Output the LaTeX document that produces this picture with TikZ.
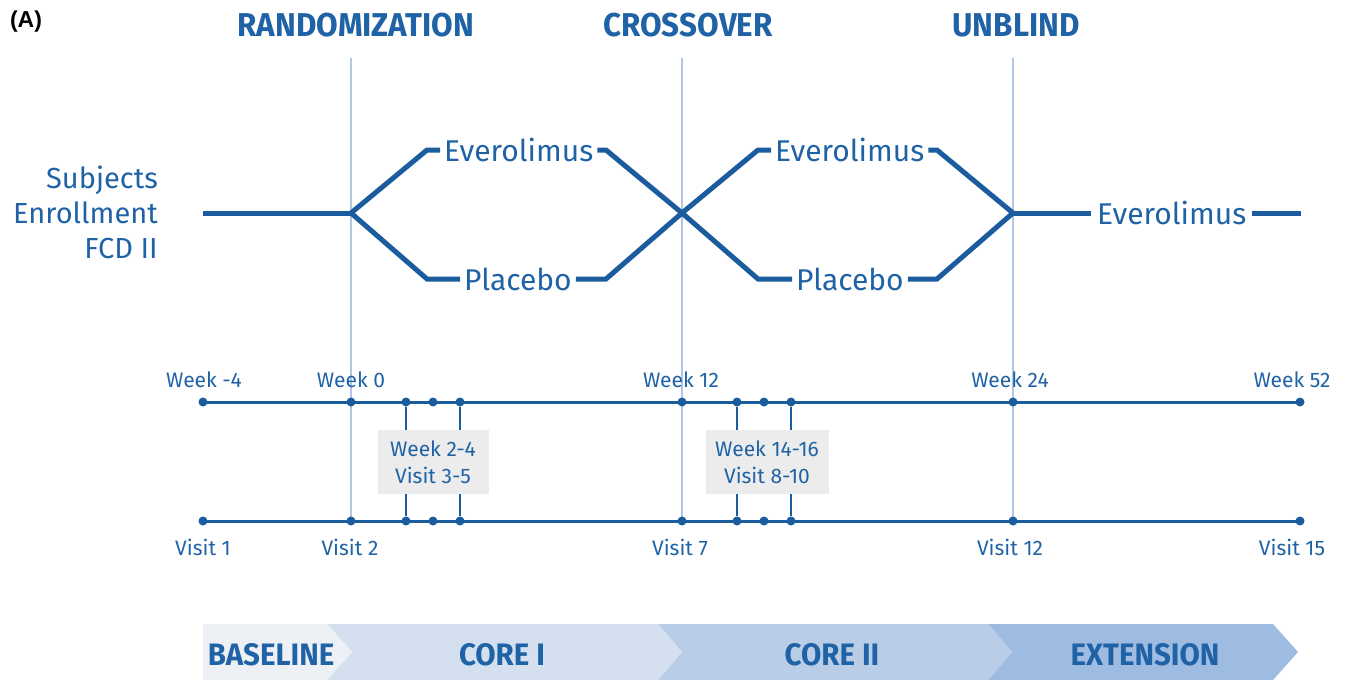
\documentclass[tikz,border=0pt]{standalone}
\usepackage{fontspec}
\setmainfont{Fira Sans}
\newfontfamily\hdrfont[FakeStretch=0.95]{Fira Sans}
\newfontfamily\panelfont{Liberation Sans}
\definecolor{mainblue}{HTML}{1B5C9E}
\definecolor{txtblue}{HTML}{1F63A6}
\definecolor{vline}{HTML}{B3C6E3}
\definecolor{graybox}{HTML}{ECECEC}
\definecolor{cbase}{HTML}{EDF0F4}
\definecolor{ccorei}{HTML}{D4E0EF}
\definecolor{ccoreii}{HTML}{B9CDE6}
\definecolor{cext}{HTML}{9EBCE2}
\begin{document}
\begin{tikzpicture}[x=1pt,y=-1pt,
  hdr/.style={text=txtblue,font=\hdrfont\bfseries\fontsize{33}{36}\selectfont,inner sep=0pt},
  arm/.style={text=txtblue,font=\fontsize{30}{34}\selectfont,inner xsep=4pt,inner ysep=0pt,anchor=west},
  flow/.style={draw=mainblue,line width=5pt},
  vguide/.style={draw=vline,line width=1.8pt},
  tl/.style={draw=mainblue,line width=3pt},
  tick/.style={draw=mainblue,line width=1.5pt},
  dot/.style={circle,fill=mainblue,minimum size=9pt,inner sep=0pt},
  lab/.style={text=txtblue,font=\fontsize{21}{25}\selectfont,inner sep=0pt},
  gbox/.style={fill=graybox,minimum width=111pt,minimum height=64pt,align=center,text=txtblue,font=\fontsize{21}{27}\selectfont},
  band/.style={text=txtblue,font=\hdrfont\bfseries\fontsize{31}{34}\selectfont,inner sep=0pt}
]
\useasboundingbox (0,0) rectangle (1345,680);

% label (A)
\node[font=\panelfont\bfseries\fontsize{23}{25}\selectfont,inner sep=0pt] (lblA) at (26,22) {(A)};

% headers
\node[hdr] (hR) at (356,25) {RANDOMIZATION};
\node[hdr] (hC) at (688,25) {CROSSOVER};
\node[hdr] (hU) at (1016,25) {UNBLIND};

% guide lines
\coordinate (g1t) at (351,58); \coordinate (g1b) at (351,521);
\coordinate (g2t) at (682,58); \coordinate (g2b) at (682,521);
\coordinate (g3t) at (1013,58); \coordinate (g3b) at (1013,521);
\draw[vguide] (g1t) -- (g1b);
\draw[vguide] (g2t) -- (g2b);
\draw[vguide] (g3t) -- (g3b);

% left label
\node[text=txtblue,font=\fontsize{29}{35}\selectfont,align=right,anchor=east,inner sep=0pt] (subj) at (158,212) {Subjects\\Enrollment\\FCD II};

% flow
\coordinate (s0) at (203,213);
\coordinate (j1) at (351,213);
\coordinate (j2) at (682,213);
\coordinate (j3) at (1013,213);
\coordinate (u1) at (427,150); \coordinate (u1e) at (606,150);
\coordinate (l1) at (427,279); \coordinate (l1e) at (606,279);
\coordinate (u2) at (758,150); \coordinate (u2e) at (937,150);
\coordinate (l2) at (758,279); \coordinate (l2e) at (937,279);
\coordinate (eEnd) at (1301,213);

\node[arm] (ev1) at (440,150) {Everolimus};
\node[arm] (pl1) at (460,279) {Placebo};
\node[arm] (ev2) at (771,150) {Everolimus};
\node[arm] (pl2) at (792,279) {Placebo};
\node[arm,inner xsep=6pt] (ev3) at (1091,213) {Everolimus};

\draw[flow] (s0) -- (j1);
\draw[flow] (j1) -- (u1) -- (ev1.west);
\draw[flow] (ev1.east) -- (u1e) -- (j2);
\draw[flow] (j1) -- (l1) -- (pl1.west);
\draw[flow] (pl1.east) -- (l1e) -- (j2);
\draw[flow] (j2) -- (u2) -- (ev2.west);
\draw[flow] (ev2.east) -- (u2e) -- (j3);
\draw[flow] (j2) -- (l2) -- (pl2.west);
\draw[flow] (pl2.east) -- (l2e) -- (j3);
\draw[flow] (j3) -- (ev3.west);
\draw[flow] (ev3.east) -- (eEnd);

% timelines
\foreach \n/\x in {a/203,b/351,c/406,d/433,e/460,f/682,g/737,h/764,i/791,j/1013,k/1300}{
  \node[dot] (w\n) at (\x,402) {};
  \node[dot] (v\n) at (\x,521) {};
}
\draw[tl] (wa.center) -- (wk.center);
\draw[tl] (va.center) -- (vk.center);
\draw[tick] (wc) -- (vc);
\draw[tick] (we) -- (ve);
\draw[tick] (wg) -- (vg);
\draw[tick] (wi) -- (vi);

\node[gbox] (box1) at (433,462) {Week 2-4\\Visit 3-5};
\node[gbox,minimum width=123pt] (box2) at (767,462) {Week 14-16\\Visit 8-10};

% week labels
\node[lab] (lw1) at (204,380) {Week -4};
\node[lab] (lw2) at (351,380) {Week 0};
\node[lab] (lw3) at (681,380) {Week 12};
\node[lab] (lw4) at (1010,380) {Week 24};
\node[lab] (lw5) at (1292,380) {Week 52};
% visit labels
\node[lab] (lv1) at (203,547) {Visit 1};
\node[lab] (lv2) at (350,547) {Visit 2};
\node[lab] (lv3) at (680,547) {Visit 7};
\node[lab] (lv4) at (1010,547) {Visit 12};
\node[lab] (lv5) at (1292,547) {Visit 15};

% bottom band
\fill[cext] (988,624) -- (1273,624) -- (1298,652) -- (1273,680) -- (988,680) -- (1012,652) -- cycle;
\fill[ccoreii] (658,624) -- (988,624) -- (1012,652) -- (988,680) -- (658,680) -- (682,652) -- cycle;
\fill[ccorei] (327,624) -- (658,624) -- (682,652) -- (658,680) -- (327,680) -- (352,652) -- cycle;
\fill[cbase] (203,624) -- (327,624) -- (352,652) -- (327,680) -- (203,680) -- cycle;
\node[band] (bB) at (271,655) {BASELINE};
\node[band] (bC1) at (502,655) {CORE I};
\node[band] (bC2) at (832,655) {CORE II};
\node[band] (bE) at (1145,655) {EXTENSION};
\end{tikzpicture}
\end{document}
